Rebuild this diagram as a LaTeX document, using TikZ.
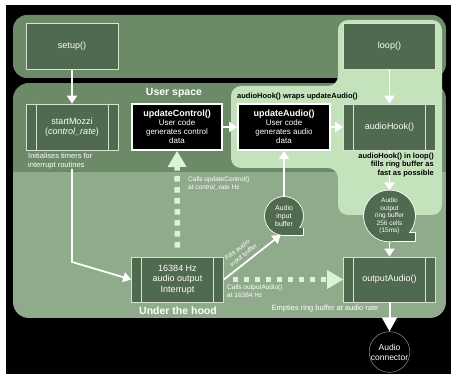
\documentclass[tikz,border=0pt]{standalone}
\usepackage{fontspec}
\setmainfont{Liberation Sans}
\usetikzlibrary{arrows.meta, positioning, calc}
\definecolor{panelgreen}{RGB}{108, 138, 104}
\definecolor{hoodgreen}{RGB}{143, 171, 139}
\definecolor{hookmint}{RGB}{196, 227, 189}
\definecolor{boxgreen}{RGB}{79, 106, 78}
\definecolor{boxline}{RGB}{215, 225, 212}
\definecolor{dotmint}{RGB}{220, 242, 214}
\tikzset{
    fnbox/.style={
        draw=boxline,
        fill=boxgreen,
        line width=0.7pt,
        minimum width=92pt,
        minimum height=46pt,
        inner sep=1pt,
        text=white,
        align=center,
        font=\fontsize{9}{10.5}\selectfont,
    },
    userbox/.style={
        draw=white,
        fill=black,
        line width=2pt,
        minimum width=90pt,
        minimum height=46pt,
        inner sep=1pt,
        text=white,
        align=center,
        font=\fontsize{8}{9}\selectfont,
    },
    bufnode/.style={
        circle,
        minimum size=#1,
        inner sep=0pt,
        text=white,
        align=center,
        font=\fontsize{7}{8}\selectfont,
    },
    bufedge/.style={
        draw=white,
        line width=1.6pt,
    },
    connnode/.style={
        circle,
        draw=panelgreen,
        fill=black,
        line width=0.6pt,
        minimum size=32pt,
        inner sep=0pt,
        text=white,
        align=center,
        font=\fontsize{8.5}{10}\selectfont,
    },
    warrow/.style={
        -{Triangle[width=10pt, length=8pt]},
        line width=1.8pt,
        color=white,
    },
    bigarrow/.style={
        -{Triangle[width=15pt, length=14pt]},
        line width=2pt,
        color=white,
    },
    dotarrow/.style={
        -{Triangle[width=19pt, length=16pt, line width=0pt]},
        line width=5.5pt,
        color=dotmint,
        dash pattern=on 5.5pt off 5.5pt,
        shorten <=9pt,
    },
    note/.style={
        font=\fontsize{7.5}{9}\selectfont,
        text=white,
        inner sep=0pt,
    },
    tinynote/.style={
        font=\fontsize{6.5}{8}\selectfont,
        text=white,
        inner sep=0pt,
        align=left,
    },
    hooknote/.style={
        font=\bfseries\fontsize{7.5}{8.5}\selectfont,
        text=black,
        inner sep=0pt,
    },
    zonelabel/.style={
        font=\bfseries\fontsize{10.5}{12}\selectfont,
        text=white,
    },
}

\begin{document}
\begin{tikzpicture}[x=1pt, y=-1pt]
\useasboundingbox (0,0) rectangle (451,374);

% ===== 背景 =====
\fill[white] (0,0) rectangle (451,374);
\fill[black] (6,5) rectangle (451,374);
\fill[panelgreen, rounded corners=14pt] (13,15) rectangle (446,78);
\begin{scope}
    \clip[rounded corners=16pt] (13,83) rectangle (446,318);
    \fill[panelgreen] (13,83) rectangle (446,172);
    \fill[hoodgreen] (13,172) rectangle (446,318);
\end{scope}
\fill[hookmint, rounded corners=10pt] (231,168) -- (231,86) -- (338,86) -- (338,20)
    -- (442,20) -- (442,215) -- (338,215) -- (338,168) -- cycle;

% ===== 缓冲区外形 =====
\coordinate (inbufc) at (284,216);
\coordinate (ringc) at (389.5,216);
\foreach \c/\r in {inbufc/19, ringc/25.5}{
    \draw[bufedge] (\c) circle (\r);
    \draw[bufedge] ($(\c)+(0,\r)$) -| ($(\c)+(\r,0.65*\r)$) -- ($(\c)+(0,0.65*\r)$) -- cycle;
    \fill[boxgreen] (\c) circle (\r);
    \fill[boxgreen] ($(\c)+(0,\r)$) -| ($(\c)+(\r,0.65*\r)$) -- ($(\c)+(0,0.65*\r)$) -- cycle;
}

% ===== 顶层函数 =====
\node[fnbox] (setup) at (72,46.5) {setup()};
\node[fnbox] (loop) at (389.5,46.5) {loop()};

% ===== 用户空间 =====
\node[zonelabel] (userlbl) at (174,93) {User space};
\node[fnbox] (smz) at (72,127) {startMozzi\\(\textit{control\_rate})};
\node[note, anchor=north west, align=left] (smznote) at (28,152.5) {Initialises timers for\\interrupt routines};

\node[userbox] (uctl) at (177,127) {\textbf{\fontsize{9}{10}\selectfont updateControl()}\\User code\\generates control\\data};
\node[userbox, minimum width=92pt] (uaud) at (284,127) {\textbf{\fontsize{9}{10}\selectfont updateAudio()}\\User code\\generates audio\\data};
\node[fnbox] (hook) at (389.5,127) {audioHook()};

\node[hooknote, anchor=west] (wraplbl) at (237,97) {audioHook() wraps updateAudio()};

% ===== 底层 =====
\node[fnbox, minimum height=45pt] (intr) at (177.5,279.5) {16384 Hz\\audio output\\Interrupt};
\node[fnbox, minimum height=45pt] (outa) at (389.5,279.5) {outputAudio()};
\node[zonelabel] (hoodlbl) at (178,311) {Under the hood};

\node[bufnode=38pt] (inbuf) at (inbufc) {Audio\\input\\buffer};
\node[bufnode=51pt, font=\fontsize{6.5}{7.5}\selectfont] (ring) at (ringc) {Audio\\output\\ring buffer\\256 cells\\(15ms)};
\node[connnode] (conn) at (389.5,352) {Audio\\connector};

\node[tinynote, anchor=west] (ctlnote) at (188,184) {Calls updateControl()\\at \textit{control\_rate} Hz};
\node[tinynote, anchor=north west] (outnote) at (227,285) {Calls outputAudio()\\at 16384 Hz};
\node[note] (emptynote) at (325,309) {Empties ring buffer at audio rate};

% 双竖线
\foreach \n in {smz, hook, intr, outa}{
    \draw[boxline, line width=0.7pt] ([xshift=10.5pt]\n.north west) -- ([xshift=10.5pt]\n.south west);
    \draw[boxline, line width=0.7pt] ([xshift=-10.5pt]\n.north east) -- ([xshift=-10.5pt]\n.south east);
}

% ===== 箭头 =====
\coordinate (mzbend) at (72,262);
\draw[warrow] (setup) -- (smz);
\draw[warrow] (loop) -- (hook);
\draw[warrow] (uctl) -- (uaud);
\draw[warrow] (uaud) -- (hook);
\draw[warrow] (hook) -- (ring);
\draw[warrow] (ring) -- (outa);
\draw[warrow] (inbuf) -- (uaud);
\draw[warrow] (smznote.south -| smz.south) -- (mzbend) -- (intr.west);
\draw[warrow] (intr.east) -- node[tinynote, sloped, above=2.5pt, pos=0.42] (fillnote) {Fills audio\\input buffer} (inbuf.260);
\draw[bigarrow] (outa) -- (conn);

\draw[dotarrow] (intr.north) -- (uctl.south);
\draw[dotarrow] (intr.east) -- (outa.west);

% 文字压在箭头上
\node[hooknote, anchor=north east, align=right] (loopnote) at (434,152.5) {audioHook() in loop()\\fills ring buffer as\\fast as possible};

\end{tikzpicture}
\end{document}
